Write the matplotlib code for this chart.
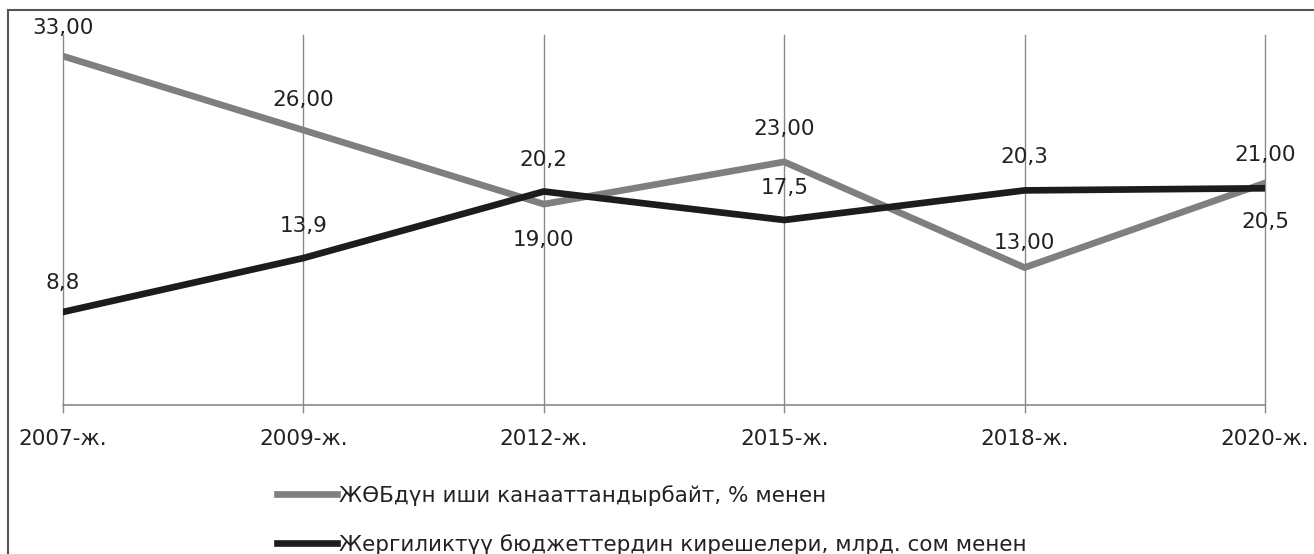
import matplotlib.pyplot as plt
from matplotlib.patches import Rectangle

years = ['2007-ж.', '2009-ж.', '2012-ж.', '2015-ж.', '2018-ж.', '2020-ж.']
unsatisfied = [33.0, 26.0, 19.0, 23.0, 13.0, 21.0]
revenues = [8.8, 13.9, 20.2, 17.5, 20.3, 20.5]
unsatisfied_labels = ['33,00', '26,00', '19,00', '23,00', '13,00', '21,00']
revenues_labels = ['8,8', '13,9', '20,2', '17,5', '20,3', '20,5']
name1 = 'ЖӨБдүн иши канааттандырбайт, % менен'
name2 = 'Жергиликтүү бюджеттердин кирешелери, млрд. сом менен'

plt.rcParams['font.family'] = ['DejaVu Sans']
fs = 15.5

fig = plt.figure(figsize=(13.14, 5.54), dpi=100)
ax = fig.add_axes([63/1314, 149/554, (1265-63)/1314, 370/554])

x = list(range(len(years)))
ax.plot(x, unsatisfied, color='#7f7f7f', lw=4.8, label=name1, zorder=3)
ax.plot(x, revenues, color='#1c1c1c', lw=4.8, label=name2, zorder=4)

# label offsets in points: positive = above, negative = below
off1 = [20, 22, -26, 24, 18, 20]
off2 = [21, 23, 23, 23, 24, -24]
for i in x:
    ax.annotate(unsatisfied_labels[i], (i, unsatisfied[i]), xytext=(0, off1[i]),
                textcoords='offset points', ha='center', va='center',
                fontsize=fs, color='#222222', zorder=5)
    ax.annotate(revenues_labels[i], (i, revenues[i]), xytext=(0, off2[i]),
                textcoords='offset points', ha='center', va='center',
                fontsize=fs, color='#222222', zorder=5)

ax.set_xlim(0, len(years) - 1)
ax.set_ylim(0, 35)
ax.set_xticks(x)
ax.set_xticklabels(years, fontsize=fs, color='#222222')
ax.set_yticks([])
ax.grid(axis='x', color='#8a8a8a', lw=1.0)
for gl in ax.get_xgridlines():
    gl.set_clip_on(False)
for s in ['left', 'right', 'top']:
    ax.spines[s].set_visible(False)
ax.spines['bottom'].set_color('#8a8a8a')
ax.spines['bottom'].set_linewidth(1.2)
ax.tick_params(axis='x', length=6, width=1, color='#8a8a8a', pad=11)

fig.legend(loc='center left', bbox_to_anchor=(266/1314, 34/554), frameon=False,
           fontsize=fs, handlelength=2.8, handletextpad=0.1, labelspacing=1.3,
           borderpad=0, labelcolor='#222222')

fig.add_artist(Rectangle((8/1314, -0.1), 1.1, 1.1 - 10/554, transform=fig.transFigure,
                         fill=False, edgecolor='#555555', lw=1.5))

fig.savefig('out.png', dpi=100)
